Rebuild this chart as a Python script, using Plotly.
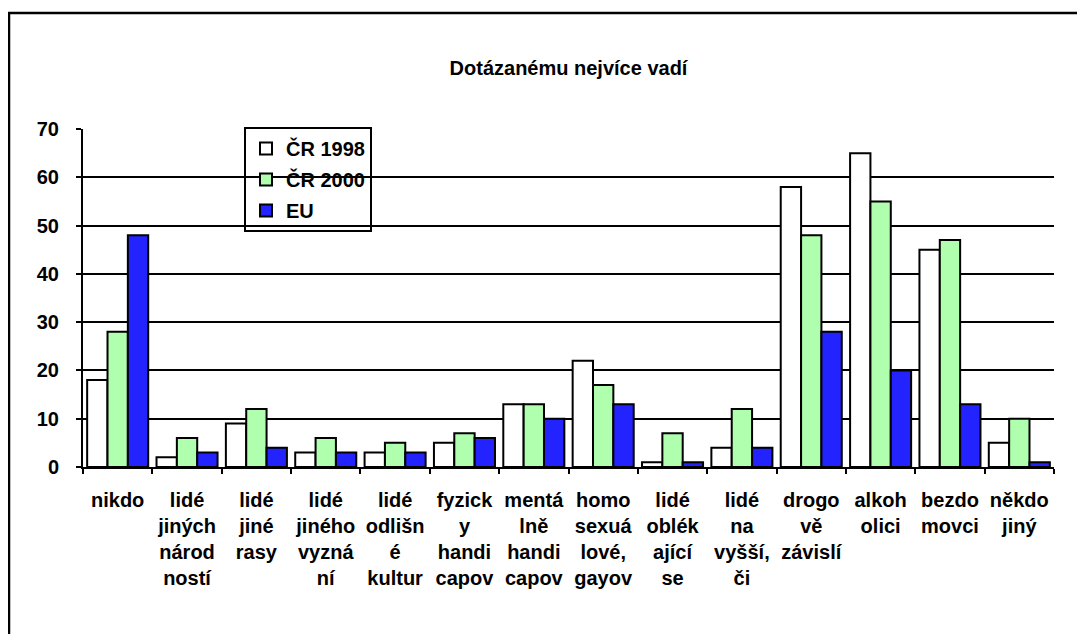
import plotly.graph_objects as go

# ---- data ----
category_lines = [
    ["nikdo"],
    ["lidé", "jiných", "národ", "ností"],
    ["lidé", "jiné", "rasy"],
    ["lidé", "jiného", "vyzná", "ní"],
    ["lidé", "odlišn", "é", "kultur"],
    ["fyzick", "y", "handi", "capov"],
    ["mentá", "lně", "handi", "capov"],
    ["homo", "sexuá", "lové,", "gayov"],
    ["lidé", "oblék", "ající", "se"],
    ["lidé", "na", "vyšší,", "či"],
    ["drogo", "vě", "závislí"],
    ["alkoh", "olici"],
    ["bezdo", "movci"],
    ["někdo", "jiný"],
]
cr1998 = [18, 2, 9, 3, 3, 5, 13, 22, 1, 4, 58, 65, 45, 5]
cr2000 = [28, 6, 12, 6, 5, 7, 13, 17, 7, 12, 48, 55, 47, 10]
eu = [48, 3, 4, 3, 3, 6, 10, 13, 1, 4, 28, 20, 13, 1]
series_names = ["ČR 1998", "ČR 2000", "EU"]
y_ticks = [0, 10, 20, 30, 40, 50, 60, 70]
title_text = "Dotázanému nejvíce vadí"

categories = ["<br>".join(lines) for lines in category_lines]

FONT = "Liberation Sans, Arial, sans-serif"
FS = 20
colors = ["#FFFFFF", "#AFFFAF", "#2323FF"]

# page body has an 8px margin; figure is sized/positioned to compensate
W, H = 1077, 626
L, T, R, B = 75, 121, 31, 167
PW = W - L - R
PH = H - T - B

fig = go.Figure()
for i, (name, vals) in enumerate(zip(series_names, [cr1998, cr2000, eu])):
    fig.add_trace(go.Bar(
        x=categories, y=vals, name=name,
        marker=dict(color=colors[i], line=dict(color="black", width=2)),
        legendgroup=f"g{i}",
    ))

fig.update_layout(
    width=W, height=H,
    margin=dict(l=L, r=R, t=T, b=B),
    paper_bgcolor="white", plot_bgcolor="white",
    barmode="group", bargap=0.12, bargroupgap=0,
    font=dict(family=FONT, size=FS, color="black", weight="bold"),
    title=dict(text=title_text, x=0.5, xref="paper", y=1 - 60 / H,
               yref="container", yanchor="middle", xanchor="center",
               font=dict(family=FONT, size=FS, color="black", weight="bold")),
    showlegend=True,
    legend=dict(
        x=(247 - 83 - 3) / PW, y=1 + 2 / PH, xanchor="left", yanchor="top",
        xref="paper", yref="paper",
        bgcolor="rgba(0,0,0,0)", bordercolor="black", borderwidth=2,
        font=dict(family=FONT, size=FS, color="black", weight="bold"),
        traceorder="grouped", tracegroupgap=2,
        itemwidth=30,
    ),
    xaxis=dict(
        type="category", showgrid=False, showline=True, linecolor="black",
        linewidth=2, ticks="outside", ticklen=5, tickwidth=2, tickcolor="black",
        tickson="boundaries", ticklabelstandoff=14, tickangle=0,
        tickfont=dict(family=FONT, size=FS, color="black", weight="bold"),
        zeroline=False,
    ),
    yaxis=dict(
        range=[0, 70], tickvals=y_ticks, showgrid=True, gridcolor="black",
        gridwidth=2, showline=True, linecolor="black", linewidth=2,
        ticks="outside", ticklen=5, tickwidth=2, tickcolor="black",
        ticklabelstandoff=13, zeroline=False,
        tickfont=dict(family=FONT, size=FS, color="black", weight="bold"),
    ),
    shapes=[dict(
        type="rect", xref="paper", yref="paper",
        x0=(9 - 83) / PW, x1=1.2, y0=-0.8, y1=1 + (129 - 13) / PH,
        line=dict(color="black", width=2.5), fillcolor="rgba(0,0,0,0)",
        layer="below",
    )],
)

fig.write_html("out.html")
